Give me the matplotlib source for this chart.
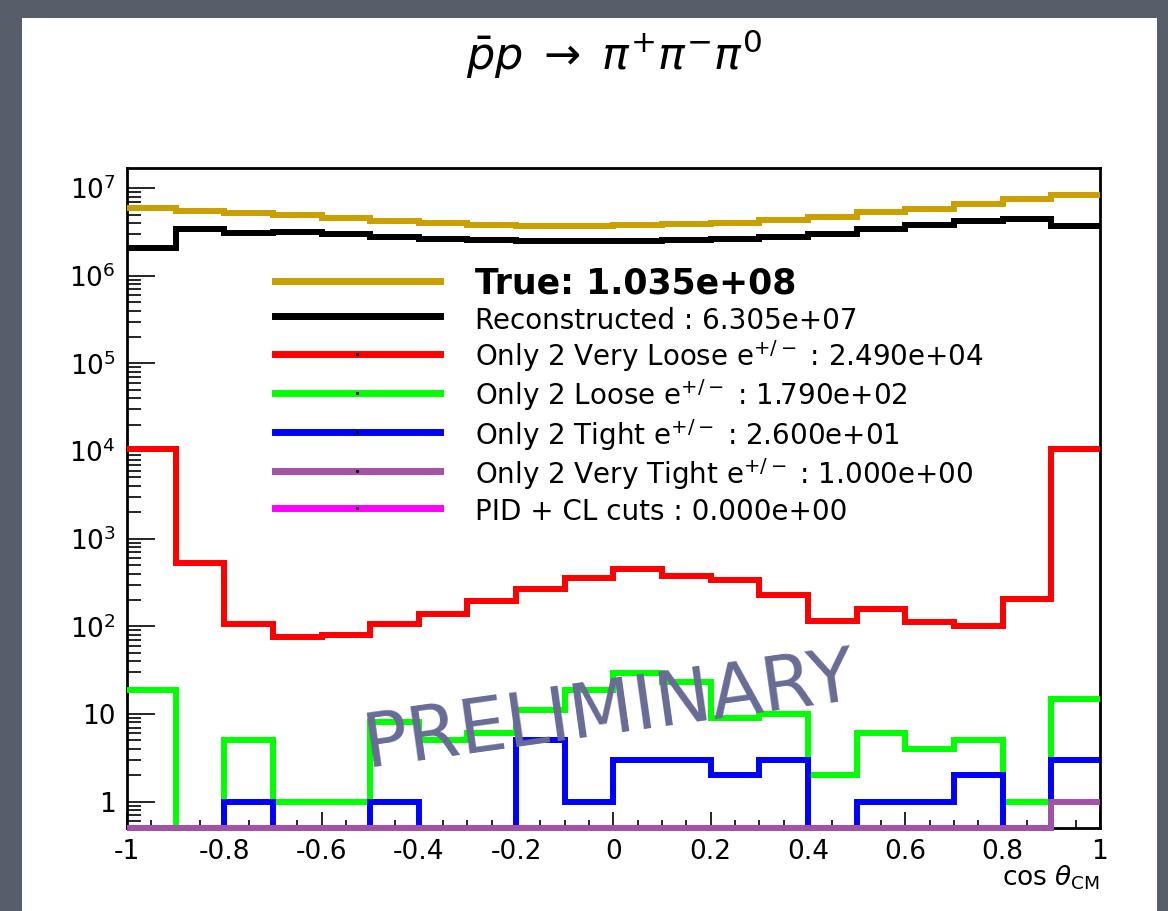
import numpy as np
import matplotlib.pyplot as plt
from matplotlib.lines import Line2D
from matplotlib.patches import Rectangle
from matplotlib.ticker import FixedLocator, LogLocator, MultipleLocator, FuncFormatter, NullFormatter

plt.rcParams['font.family'] = ['DejaVu Sans']
plt.rcParams['mathtext.fontset'] = 'dejavusans'
plt.rcParams['axes.unicode_minus'] = False

# cos(theta_CM) binning, 20 bins from -1 to 1
bin_edges = [-1.0, -0.9, -0.8, -0.7, -0.6, -0.5, -0.4, -0.3, -0.2, -0.1, 0.0,
             0.1, 0.2, 0.3, 0.4, 0.5, 0.6, 0.7, 0.8, 0.9, 1.0]

# bin contents
true_counts = [5.97e6, 5.48e6, 5.25e6, 4.90e6, 4.57e6, 4.25e6, 4.04e6, 3.83e6, 3.73e6, 3.70e6,
               3.77e6, 3.93e6, 4.04e6, 4.30e6, 4.68e6, 5.33e6, 5.82e6, 6.53e6, 7.45e6, 8.47e6]
reco_counts = [2.08e6, 3.45e6, 3.08e6, 3.16e6, 3.00e6, 2.77e6, 2.65e6, 2.54e6, 2.48e6, 2.49e6,
               2.48e6, 2.54e6, 2.65e6, 2.77e6, 3.02e6, 3.39e6, 3.77e6, 4.17e6, 4.47e6, 3.66e6]
very_loose = [10500, 533, 107, 76, 79, 107, 139, 194, 268, 357,
              452, 380, 339, 225, 114, 158, 111, 100, 203, 10458]
loose = [19, 0, 5, 1, 1, 8, 5, 6, 11, 19, 29, 23, 9, 10, 2, 6, 4, 5, 1, 15]
tight = [0, 0, 1, 0, 0, 1, 0, 0, 5, 1, 3, 3, 2, 3, 0, 1, 1, 2, 0, 3]
very_tight = [0, 0, 0, 0, 0, 0, 0, 0, 0, 0, 0, 0, 0, 0, 0, 0, 0, 0, 0, 1]
pid_cl = [0, 0, 0, 0, 0, 0, 0, 0, 0, 0, 0, 0, 0, 0, 0, 0, 0, 0, 0, 0]

names = ['True', 'Reconstructed ', r'Only 2 Very Loose e$^{+/-}$ ', r'Only 2 Loose e$^{+/-}$ ',
         r'Only 2 Tight e$^{+/-}$ ', r'Only 2 Very Tight e$^{+/-}$ ', 'PID + CL cuts ']
totals = [1.035e8, 6.305e7, 2.490e4, 1.790e2, 2.600e1, 1.000e0, 0.0]
colors = ['#c9a000', 'black', '#ff0000', '#00ff00', '#0000ff', '#a452a8', '#ff00ff']
series = [true_counts, reco_counts, very_loose, loose, tight, very_tight, pid_cl]

ymin, ymax = 0.5, 1.7e7
y_major = [1, 10, 1e2, 1e3, 1e4, 1e5, 1e6, 1e7]

fig = plt.figure(figsize=(11.68, 9.11), dpi=100, facecolor='#585d6a')
# white slide panel
fig.add_artist(Rectangle((0.0188, 0.0), 0.9717, 0.98, transform=fig.transFigure,
                         facecolor='white', edgecolor='none', zorder=-1))

ax = fig.add_axes([0.1087, 0.0911, 0.833, 0.7245])
ax.set_yscale('log')
ax.set_xlim(-1, 1)
ax.set_ylim(ymin, ymax)

# empty histogram (PID + CL) is not drawn, only listed in the legend
for i, (vals, c) in enumerate(zip(series[:6], colors[:6])):
    ax.stairs(np.clip(np.array(vals, dtype=float), ymin, None), bin_edges,
              color=c, lw=4.3, baseline=None, clip_on=False, zorder=3 + i)

# legend
handles = []
for i, c in enumerate(colors):
    if i < 2:
        handles.append(Line2D([], [], color=c, lw=5))
    else:
        handles.append(Line2D([], [], color=c, lw=5, marker='s', ms=1.2, mfc='k', mec='k'))
labels = ['True: %.3e' % totals[0]] + ['%s: %.3e' % (n, t) for n, t in zip(names[1:], totals[1:])]
leg = ax.legend(handles, labels, loc='upper left', bbox_to_anchor=(0.152, 0.851),
                frameon=False, fontsize=20, handlelength=5.94, handletextpad=1.26,
                handleheight=1.35, labelspacing=0.12, borderpad=0, borderaxespad=0,
                numpoints=1)
leg.get_texts()[0].set_fontweight('bold')
leg.get_texts()[0].set_fontsize(25)


def xfmt(v, pos):
    if abs(v) < 1e-9:
        return '0'
    return '%g' % round(v, 1)


def yfmt(v, pos):
    e = int(round(np.log10(v)))
    if e == 0:
        return '1'
    if e == 1:
        return '10'
    return r'$\mathdefault{10^{%d}}$' % e


ax.xaxis.set_major_locator(MultipleLocator(0.2))
ax.xaxis.set_minor_locator(MultipleLocator(0.05))
ax.xaxis.set_major_formatter(FuncFormatter(xfmt))
ax.yaxis.set_major_locator(FixedLocator(y_major))
ax.yaxis.set_minor_locator(LogLocator(base=10, subs=np.arange(2, 10), numticks=20))
ax.yaxis.set_major_formatter(FuncFormatter(yfmt))
ax.yaxis.set_minor_formatter(NullFormatter())

ax.tick_params(axis='both', which='both', direction='in', width=1.2, labelsize=19)
ax.tick_params(axis='y', which='major', length=20, pad=8)
ax.tick_params(axis='y', which='minor', length=10)
ax.tick_params(axis='x', which='major', length=11.5, pad=8)
ax.tick_params(axis='x', which='minor', length=6)
for sp in ax.spines.values():
    sp.set_linewidth(2)

fig.text(0.9418, 0.0285, r'cos $\theta_{\mathrm{CM}}$', ha='right', va='baseline', fontsize=19)
fig.text(0.526, 0.923, r'$\bar{p}p\;\rightarrow\;\pi^{+}\pi^{-}\pi^{0}$',
         ha='center', va='baseline', fontsize=32)
fig.text(0.522, 0.2185, 'PRELIMINARY', fontsize=54, color='#686b94', rotation=8,
         ha='center', va='center', rotation_mode='anchor', zorder=10)

fig.savefig('out.png', dpi=100, facecolor=fig.get_facecolor())
